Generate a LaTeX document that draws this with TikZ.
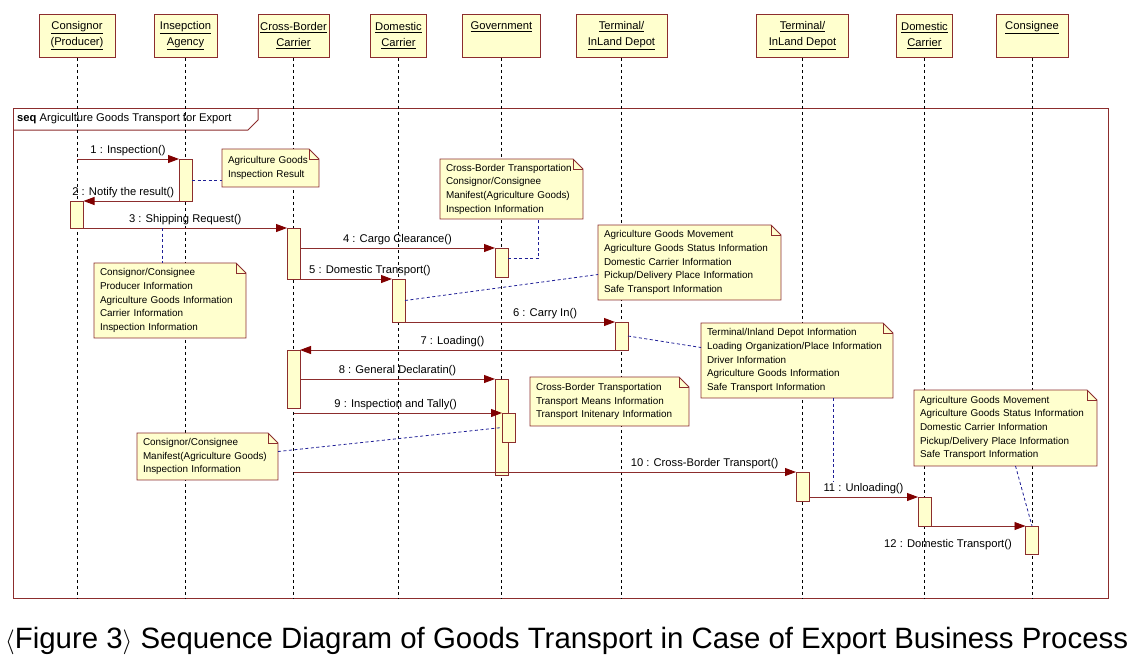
\documentclass[tikz,border=0pt]{standalone}
\usepackage{fontspec}
\setmainfont{Liberation Sans}
\usetikzlibrary{arrows.meta,calc}

\definecolor{umlFill}{RGB}{255,255,206}
\definecolor{umlEdge}{RGB}{140,45,45}
\definecolor{msgRed}{RGB}{128,0,0}
\definecolor{linkBlue}{RGB}{30,30,150}

\newcommand{\hdrfont}{\fontsize{11.2}{16}\selectfont}
\newcommand{\msgfont}{\fontsize{11.2}{13}\selectfont}
\newcommand{\notefont}{\fontsize{9.9}{13.7}\selectfont}
\newcommand{\capfont}{\fontsize{29.4}{32}\selectfont}

\tikzset{
  hdr/.style={draw=umlEdge, fill=umlFill, line width=0.9pt, anchor=north,
              minimum height=43pt, inner sep=2pt, align=center, font=\hdrfont},
  act/.style={draw=umlEdge, fill=umlFill, line width=0.9pt, anchor=north,
              minimum width=13pt, inner sep=0pt, outer sep=0pt},
  lifeline/.style={black, line width=0.9pt, dash pattern=on 3pt off 3pt},
  msg/.style={-{Triangle[length=11pt,width=8pt,color=msgRed]}, umlEdge, line width=0.9pt},
  lbl/.style={above, inner sep=1pt, yshift=2pt, font=\msgfont, text=black},
  note/.style={fill=umlFill, anchor=north west, align=left, inner xsep=6pt,
               inner ysep=0pt, outer sep=0pt, font=\notefont},
  noteedge/.style={draw=umlEdge, line width=0.9pt},
  notelink/.style={linkBlue, line width=0.8pt, dash pattern=on 3pt off 2.5pt},
  frame/.style={draw=umlEdge, line width=1pt},
}

\begin{document}
\begin{tikzpicture}[x=1pt, y=-1pt]
    \useasboundingbox (0, 0) rectangle (1133, 657);

    % Frame
    \coordinate (fbot) at (0, 598);
    \draw[frame] (13, 108) rectangle (1108, 598);
    \draw[frame] (13, 130) -- (248, 130) -- (258, 120) -- (258, 108);
    \node[anchor=west, font=\msgfont, inner sep=0pt] (seq) at (17, 119) {\textbf{seq} Argiculture Goods Transport for Export};

    % Objects
    \node[hdr, minimum width=76pt] (cons) at (77, 14) {\underline{Consignor}\\\underline{(Producer)}};
    \node[hdr, minimum width=63pt] (insp) at (185.5, 14) {\underline{Insepction}\\\underline{Agency}};
    \node[hdr, minimum width=71pt] (cbc) at (293.5, 14) {\underline{Cross-Border}\\\underline{Carrier}};
    \node[hdr, minimum width=56pt] (dom) at (398.5, 14) {\underline{Domestic}\\\underline{Carrier}};
    \node[hdr, minimum width=78pt] (gov) at (501.5, 14) {\underline{Government}\\\strut};
    \node[hdr, minimum width=91pt] (term) at (621.5, 14) {\underline{Terminal/}\\\underline{InLand Depot}};
    \node[hdr, minimum width=92pt] (termb) at (802.5, 14) {\underline{Terminal/}\\\underline{InLand Depot}};
    \node[hdr, minimum width=56pt] (domb) at (924.5, 14) {\underline{Domestic}\\\underline{Carrier}};
    \node[hdr, minimum width=72pt] (csg) at (1032, 14) {\underline{Consignee}\\\strut};

    % Lifelines
    \foreach \h in {cons,insp,cbc,dom,gov,term,termb,domb,csg}
        \draw[lifeline] (\h.south) -- (\h.south |- fbot);

    % Activations
    \node[act, minimum height=27pt] (c1) at (77, 201) {};
    \node[act, minimum height=42pt] (i1) at (185.5, 159) {};
    \node[act, minimum height=51pt] (b1) at (293.5, 228) {};
    \node[act, minimum height=29pt] (g1) at (501.5, 248) {};
    \node[act, minimum height=43pt] (d1) at (398.5, 279) {};
    \node[act, minimum height=28pt] (t1) at (621.5, 322) {};
    \node[act, minimum height=58pt] (b2) at (293.5, 350) {};
    \node[act, minimum height=96pt] (g2) at (501.5, 379) {};
    \node[act, minimum height=29pt] (g3) at (508.5, 413) {};
    \node[act, minimum height=29pt] (tb1) at (802.5, 472) {};
    \node[act, minimum height=29pt] (db1) at (924.5, 497) {};
    \node[act, minimum height=28pt] (cs1) at (1032, 526) {};

    % Messages
    \draw[msg] (cons |- i1.north) -- node[lbl] (l1) {1 : Inspection()} (i1.north west);
    \draw[msg] (i1.south) -- node[lbl, pos=0.61] (l2) {2 : Notify the result()} (c1.north east);
    \draw[msg] (c1.south east) -- node[lbl] (l3) {3 : Shipping Request()} coordinate[pos=0.39] (m3) (b1.north west);
    \draw[msg] (b1.east |- g1.north) -- node[lbl] (l4) {4 : Cargo Clearance()} (g1.north west);
    \draw[msg] (b1.south east) -- node[lbl, pos=0.76] (l5) {5 : Domestic Transport()} (d1.north west);
    \draw[msg] (d1.south east) -- node[lbl, pos=0.667] (l6) {6 : Carry In()} (t1.north west);
    \draw[msg] (t1.south west) -- node[lbl, pos=0.516] (l7) {7 : Loading()} (b2.north east);
    \draw[msg] (b2.east |- g2.north) -- node[lbl] (l8) {8 : General Declaratin()} (g2.north west);
    \draw[msg] (cbc |- g3.north) -- node[lbl, pos=0.49] (l9) {9 : Inspection and Tally()} (g3.north west);
    \draw[msg] (cbc |- tb1.north) -- node[lbl, pos=0.818] (l10) {10 : Cross-Border Transport()} (tb1.north west);
    \draw[msg] (tb1.east |- db1.north) -- node[lbl] (l11) {11 : Unloading()} coordinate[pos=0.22] (m11) (db1.north west);
    \draw[msg] (db1.south east) -- node[lbl, below, yshift=-14pt, pos=0.18] (l12) {12 : Domestic Transport()} (cs1.north west);

    % Notes
    \node[note, text width=85pt, minimum height=38pt] (nInsp) at (222, 149) {Agriculture Goods\\Inspection Result};
    \node[note, text width=140pt, minimum height=75pt] (nShip) at (94, 263) {Consignor/Consignee\\Producer Information\\Agriculture Goods Information\\Carrier Information\\Inspection Information};
    \node[note, text width=131pt, minimum height=60pt] (nClear) at (440, 159) {Cross-Border Transportation\\Consignor/Consignee\\Manifest(Agriculture Goods)\\Inspection Information};
    \node[note, text width=171pt, minimum height=75pt] (nDom) at (598, 225) {Agriculture Goods Movement\\Agriculture Goods Status Information\\Domestic Carrier Information\\Pickup/Delivery Place Information\\Safe Transport Information};
    \node[note, text width=180pt, minimum height=75pt] (nLoad) at (701, 323) {Terminal/Inland Depot Information\\Loading Organization/Place Information\\Driver Information\\Agriculture Goods Information\\Safe Transport Information};
    \node[note, text width=147pt, minimum height=49pt] (nDecl) at (530, 377) {Cross-Border Transportation\\Transport Means Information\\Transport Initenary Information};
    \node[note, text width=129pt, minimum height=47pt] (nTally) at (137, 433) {Consignor/Consignee\\Manifest(Agriculture Goods)\\Inspection Information};
    \node[note, text width=171pt, minimum height=76pt] (nDel) at (914, 390) {Agriculture Goods Movement\\Agriculture Goods Status Information\\Domestic Carrier Information\\Pickup/Delivery Place Information\\Safe Transport Information};

    \foreach \n in {nInsp,nShip,nClear,nDom,nLoad,nDecl,nTally,nDel} {
        \fill[white] ([xshift=-10pt]\n.north east) -- (\n.north east) -- ([yshift=-10pt]\n.north east) -- cycle;
        \draw[noteedge] (\n.north west) -- ([xshift=-10pt]\n.north east) -- ([yshift=-10pt]\n.north east) |- (\n.south west) -- cycle;
        \draw[noteedge] ([xshift=-10pt]\n.north east) |- ([yshift=-10pt]\n.north east);
    }

    % Note links
    \draw[notelink] (i1.east) -- (i1.east -| nInsp.west);
    \draw[notelink] (m3) -- (m3 |- nShip.north);
    \draw[notelink] ([yshift=4pt]g1.east) -| ([xshift=27pt]nClear.south);
    \draw[notelink] (d1.east) -- ([yshift=-12pt]nDom.west);
    \draw[notelink] (t1.east) -- ([yshift=13pt]nLoad.west);
    \draw[notelink] (m11 |- nLoad.south) -- (m11 |- l11.north);
    \draw[notelink] ([yshift=5pt]nTally.east) -- (g3.west);
    \draw[notelink] ([xshift=10pt]nDel.south) -- (cs1.north);

    % Caption
    \node[anchor=base west, font=\capfont, inner sep=0pt] (caption) at (5, 648) {$\langle$Figure 3$\rangle$ Sequence Diagram of Goods Transport in Case of Export Business Process};
\end{tikzpicture}
\end{document}
